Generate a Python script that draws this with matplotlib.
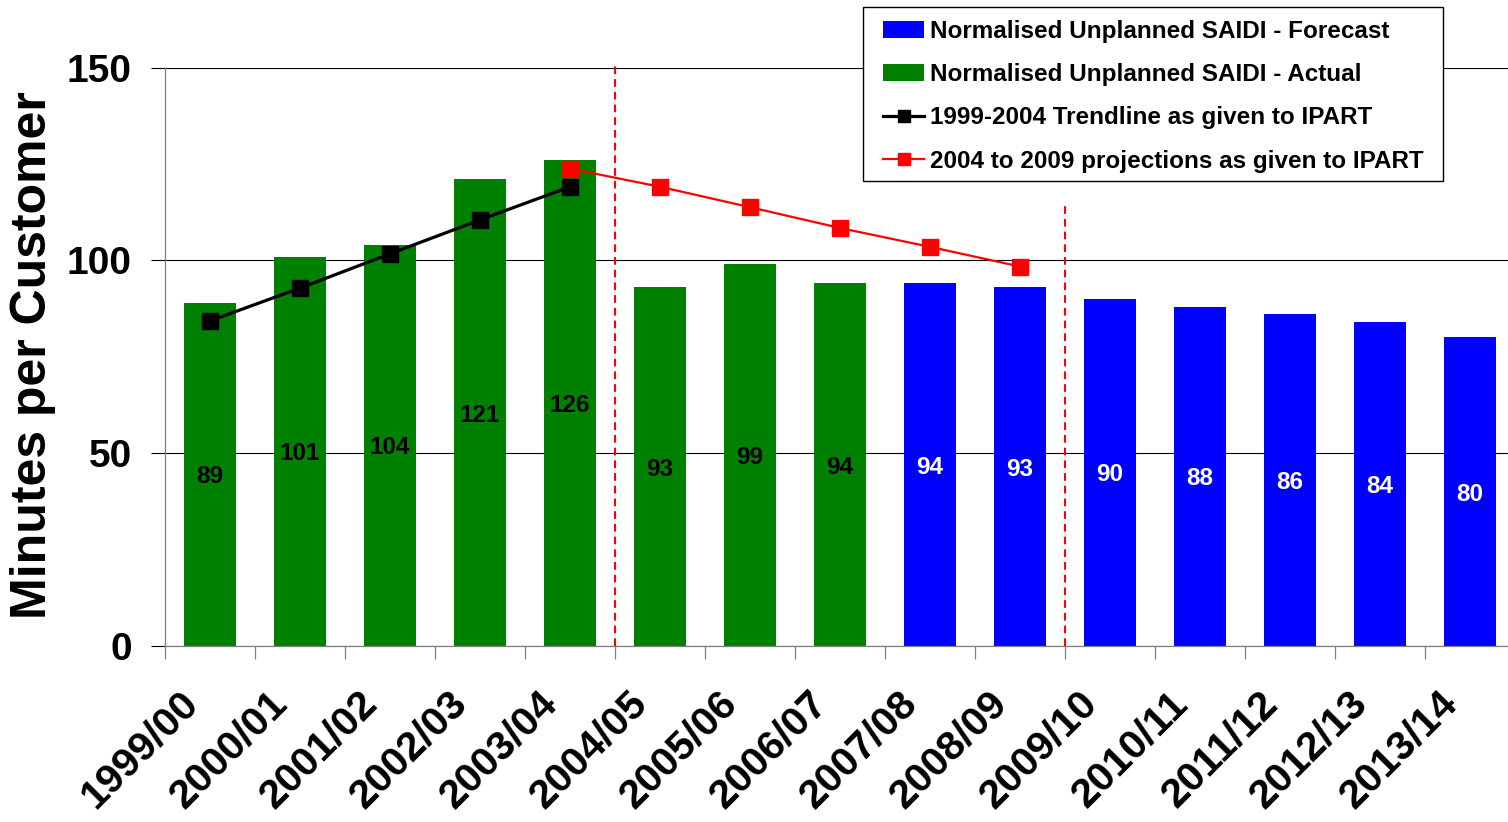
import matplotlib
matplotlib.use("Agg")
import matplotlib.pyplot as plt
from matplotlib.transforms import ScaledTranslation
from matplotlib.lines import Line2D
from matplotlib.patches import Patch, Rectangle

plt.rcParams["font.family"] = ["Liberation Sans", "DejaVu Sans"]
plt.rcParams["font.weight"] = "bold"

# Financial years and normalised unplanned SAIDI (minutes per customer)
years = ["1999/00", "2000/01", "2001/02", "2002/03", "2003/04", "2004/05",
         "2005/06", "2006/07", "2007/08", "2008/09", "2009/10", "2010/11",
         "2011/12", "2012/13", "2013/14"]
saidi = [89, 101, 104, 121, 126, 93, 99, 94, 94, 93, 90, 88, 86, 84, 80]
n_actual = 8  # first eight years are actuals, the rest forecast

# Trendline and projections as given to IPART
trend_years = ["1999/00", "2000/01", "2001/02", "2002/03", "2003/04"]
trend_vals = [84.3, 92.8, 101.7, 110.5, 119.1]
proj_years = ["2003/04", "2004/05", "2005/06", "2006/07", "2007/08", "2008/09"]
proj_vals = [123.8, 119.1, 113.8, 108.4, 103.5, 98.4]

# Regulatory period boundaries (year after which the line sits, line top)
period_breaks = [("2003/04", 151), ("2008/09", 114)]

GREEN = "#008000"
BLUE = "#0000FF"
GREY = "#808080"

fig = plt.figure(figsize=(15.08, 8.22), dpi=100)
ax = fig.add_axes([165 / 1508, 1 - 645.7 / 822, 1350 / 1508, 578 / 822])

pos = {y: i for i, y in enumerate(years)}
xs = list(range(len(years)))
colors = [GREEN if i < n_actual else BLUE for i in xs]
ax.bar(xs, saidi, width=0.58, color=colors, zorder=2)

for i, v in enumerate(saidi):
    ax.text(i, v / 2, f"{v}", ha="center", va="center_baseline",
            fontsize=17.5, fontweight="bold",
            color="black" if i < n_actual else "white", zorder=4)

ax.plot([pos[y] for y in trend_years], trend_vals, color="black", lw=2.3,
        marker="s", ms=11.5, zorder=5)
ax.plot([pos[y] for y in proj_years], proj_vals, color="#FF0000", lw=1.6,
        marker="s", ms=12, zorder=6)

for yr, top in period_breaks:
    xb = pos[yr] + 0.5
    ax.plot([xb, xb], [0, top], color="#FF0000", lw=1.5,
            linestyle=(0, (3.7, 2.4)), clip_on=False, zorder=3)

ax.set_xlim(-0.5, len(years) - 0.5)
ax.set_ylim(0, 150)
ax.set_yticks([0, 50, 100, 150])
ax.yaxis.grid(True, color="black", lw=0.8)
ax.set_axisbelow(True)

for s in ("top", "right"):
    ax.spines[s].set_visible(False)
for s in ("left", "bottom"):
    ax.spines[s].set_color(GREY)
    ax.spines[s].set_linewidth(0.9)

ax.tick_params(axis="y", direction="out", length=10, width=0.8, color="black",
               labelsize=28, pad=14)
for lab in ax.get_yticklabels():
    lab.set_fontweight("bold")

# category labels at bar centres, tick marks at category boundaries
ax.set_xticks(xs)
ax.set_xticks([i - 0.5 for i in range(len(years) + 1)], minor=True)
ax.tick_params(axis="x", which="major", length=0, pad=0)
ax.tick_params(axis="x", which="minor", direction="out", length=9.4,
               width=0.9, color=GREY)
ax.set_xticklabels(years, rotation=45, ha="right", va="top",
                   rotation_mode="anchor", fontsize=29.5, fontweight="bold")
shift = ScaledTranslation(-0.32, -0.38, fig.dpi_scale_trans)
for lab in ax.get_xticklabels():
    lab.set_transform(lab.get_transform() + shift)

fig.text(33 / 1508, 1 - 355 / 822, "Minutes per Customer", rotation=90,
         ha="center", va="center", fontsize=36, fontweight="bold")

handles = [
    Patch(facecolor=BLUE, edgecolor="none"),
    Patch(facecolor=GREEN, edgecolor="none"),
    Line2D([], [], color="black", lw=2.3, marker="s", ms=9),
    Line2D([], [], color="#FF0000", lw=1.6, marker="s", ms=9),
]
labels = ["Normalised Unplanned SAIDI - Forecast",
          "Normalised Unplanned SAIDI - Actual",
          "1999-2004 Trendline as given to IPART",
          "2004 to 2009 projections as given to IPART"]
leg = fig.legend(handles, labels, loc="upper right",
                 bbox_to_anchor=(1424 / 1508, 1 - 20 / 822),
                 frameon=False, borderpad=0, borderaxespad=0,
                 fontsize=17.5, handlelength=1.7, handleheight=0.7,
                 handletextpad=0.25, labelspacing=0.83)
for t in leg.get_texts():
    t.set_fontweight("bold")

fig.canvas.draw()
bb = leg.get_window_extent()
frame = Rectangle((bb.x0 - 20, bb.y0 - 8), bb.width + 39, bb.height + 21,
                  transform=None, facecolor="white", edgecolor="black",
                  lw=1.0, zorder=10)
fig.add_artist(frame)
leg.set_zorder(11)

fig.savefig("out.png", dpi=100)
